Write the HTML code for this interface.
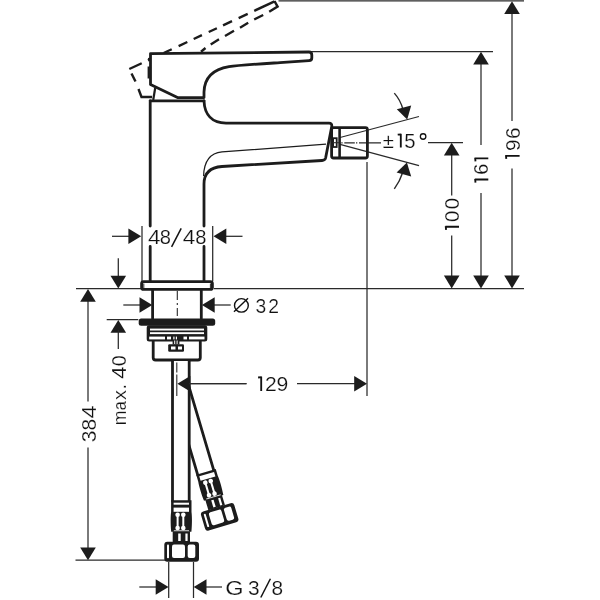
<!DOCTYPE html>
<html><head><meta charset="utf-8"><style>
html,body{margin:0;padding:0;background:#fff;}
svg{display:block;}
text{font-family:"Liberation Sans",sans-serif;fill:#111;stroke:#fff;stroke-width:0.2px;paint-order:normal;}
svg{will-change:transform;}
</style></head><body>
<svg width="600" height="600" viewBox="0 0 600 600">
<rect width="600" height="600" fill="#fff"/>
<line x1="278.50" y1="0.90" x2="524.00" y2="0.90" stroke="#2a2a2a" stroke-width="1.25" />
<line x1="311.00" y1="51.50" x2="493.00" y2="51.50" stroke="#2a2a2a" stroke-width="1.25" />
<line x1="428.00" y1="142.60" x2="463.00" y2="142.60" stroke="#2a2a2a" stroke-width="1.25" />
<line x1="76.00" y1="288.60" x2="141.00" y2="288.60" stroke="#2a2a2a" stroke-width="1.25" />
<line x1="214.00" y1="288.60" x2="524.00" y2="288.60" stroke="#2a2a2a" stroke-width="1.25" />
<line x1="512.00" y1="10.00" x2="512.00" y2="121.00" stroke="#2a2a2a" stroke-width="1.25" />
<line x1="512.00" y1="168.50" x2="512.00" y2="280.00" stroke="#2a2a2a" stroke-width="1.25" />
<polygon points="512.00,1.20 504.20,14.00 519.80,14.00" fill="#1c1c1c"/>
<polygon points="512.00,288.40 504.20,275.60 519.80,275.60" fill="#1c1c1c"/>
<g transform="translate(519.60 0) rotate(-90)"><text x="-145.24 -133.14" y="0" text-anchor="middle" font-size="20.86">96</text><path d="M-155.80,0.00 L-155.80,-14.00 M-155.20,-13.70 L-158.90,-13.30" stroke="#111" stroke-width="1.85" fill="none"/></g>
<line x1="481.00" y1="60.00" x2="481.00" y2="145.00" stroke="#2a2a2a" stroke-width="1.25" />
<line x1="481.00" y1="193.00" x2="481.00" y2="280.00" stroke="#2a2a2a" stroke-width="1.25" />
<polygon points="481.00,51.80 473.20,64.60 488.80,64.60" fill="#1c1c1c"/>
<polygon points="481.00,288.40 473.20,275.60 488.80,275.60" fill="#1c1c1c"/>
<g transform="translate(488.30 0) rotate(-90)"><text x="-169.14" y="0" text-anchor="middle" font-size="20.14">6</text><path d="M-179.50,0.00 L-179.50,-13.50 M-178.90,-13.20 L-182.60,-12.80" stroke="#111" stroke-width="1.85" fill="none"/><path d="M-158.35,0.00 L-158.35,-13.50 M-157.75,-13.20 L-161.45,-12.80" stroke="#111" stroke-width="1.85" fill="none"/></g>
<line x1="451.70" y1="150.00" x2="451.70" y2="195.40" stroke="#2a2a2a" stroke-width="1.25" />
<line x1="451.70" y1="235.40" x2="451.70" y2="280.00" stroke="#2a2a2a" stroke-width="1.25" />
<polygon points="451.70,142.80 443.90,155.60 459.50,155.60" fill="#1c1c1c"/>
<polygon points="451.70,288.40 443.90,275.60 459.50,275.60" fill="#1c1c1c"/>
<g transform="translate(459.00 0) rotate(-90)"><text x="-216.29 -203.54" y="0" text-anchor="middle" font-size="20.29">00</text><path d="M-226.70,0.00 L-226.70,-13.60 M-226.10,-13.30 L-229.80,-12.90" stroke="#111" stroke-width="1.85" fill="none"/></g>
<line x1="142.00" y1="226.00" x2="142.00" y2="281.00" stroke="#2a2a2a" stroke-width="1.25" />
<line x1="212.70" y1="226.00" x2="212.70" y2="281.00" stroke="#2a2a2a" stroke-width="1.25" />
<line x1="112.00" y1="236.30" x2="130.00" y2="236.30" stroke="#2a2a2a" stroke-width="1.25" />
<polygon points="141.20,236.30 128.40,228.50 128.40,244.10" fill="#1c1c1c"/>
<line x1="226.00" y1="236.30" x2="242.50" y2="236.30" stroke="#2a2a2a" stroke-width="1.25" />
<polygon points="213.50,236.30 226.30,228.50 226.30,244.10" fill="#1c1c1c"/>
<g transform="translate(0 243.90)"><text x="165.46 200.86" y="0" text-anchor="middle" font-size="20.14">88</text><text x="0" y="0" transform="translate(154.27 0) scale(1.120 1.000)" text-anchor="middle" font-size="20.14">4</text><text x="0" y="0" transform="translate(188.97 0) scale(1.120 1.000)" text-anchor="middle" font-size="20.14">4</text></g>
<line x1="171.60" y1="246.80" x2="181.20" y2="228.40" stroke="#111" stroke-width="1.50"/>
<line x1="118.30" y1="258.30" x2="118.30" y2="277.00" stroke="#2a2a2a" stroke-width="1.25" />
<polygon points="118.30,288.60 110.50,275.80 126.10,275.80" fill="#1c1c1c"/>
<line x1="88.00" y1="300.00" x2="88.00" y2="401.50" stroke="#2a2a2a" stroke-width="1.25" />
<line x1="88.00" y1="447.50" x2="88.00" y2="550.00" stroke="#2a2a2a" stroke-width="1.25" />
<polygon points="88.00,288.90 80.20,301.70 95.80,301.70" fill="#1c1c1c"/>
<polygon points="88.00,560.20 80.20,547.40 95.80,547.40" fill="#1c1c1c"/>
<line x1="75.50" y1="560.10" x2="165.00" y2="560.10" stroke="#2a2a2a" stroke-width="1.25" />
<g transform="translate(95.50 0) rotate(-90)"><text x="-436.44 -424.69" y="0" text-anchor="middle" font-size="21.00">38</text><text x="0" y="0" transform="translate(-411.93 0) scale(1.120 1.000)" text-anchor="middle" font-size="21.00">4</text></g>
<line x1="106.70" y1="319.70" x2="138.30" y2="319.70" stroke="#2a2a2a" stroke-width="1.25" />
<polygon points="118.30,319.90 110.50,332.70 126.10,332.70" fill="#1c1c1c"/>
<line x1="118.30" y1="330.00" x2="118.30" y2="349.00" stroke="#2a2a2a" stroke-width="1.25" />
<g transform="translate(125.70 0) rotate(-90)"><text x="-386.72 -360.74" y="0" text-anchor="middle" font-size="19.71">.0</text><text x="0" y="0" transform="translate(-417.86 0) scale(0.900 0.885)" text-anchor="middle" font-size="19.71">m</text><text x="0" y="0" transform="translate(-405.65 0) scale(0.820 0.885)" text-anchor="middle" font-size="19.71">a</text><text x="0" y="0" transform="translate(-395.00 0) scale(1.000 0.885)" text-anchor="middle" font-size="19.71">x</text><text x="0" y="0" transform="translate(-372.63 0) scale(1.120 1.000)" text-anchor="middle" font-size="19.71">4</text></g>
<line x1="123.30" y1="305.00" x2="141.00" y2="305.00" stroke="#2a2a2a" stroke-width="1.25" />
<polygon points="152.30,305.00 139.50,297.20 139.50,312.80" fill="#1c1c1c"/>
<line x1="213.00" y1="305.00" x2="230.70" y2="305.00" stroke="#2a2a2a" stroke-width="1.25" />
<polygon points="201.90,305.00 214.70,297.20 214.70,312.80" fill="#1c1c1c"/>
<ellipse cx="241.4" cy="305.4" rx="6.9" ry="6.75" fill="none" stroke="#111" stroke-width="1.4"/>
<line x1="234.00" y1="311.80" x2="248.00" y2="298.20" stroke="#111" stroke-width="1.40"/>
<g transform="translate(0 312.50)"><text x="260.76 273.66" y="0" text-anchor="middle" font-size="19.29">32</text></g>
<line x1="367.00" y1="162.00" x2="367.00" y2="396.00" stroke="#2a2a2a" stroke-width="1.25" />
<polygon points="177.40,383.70 190.20,375.90 190.20,391.50" fill="#1c1c1c"/>
<line x1="189.00" y1="383.70" x2="246.50" y2="383.70" stroke="#2a2a2a" stroke-width="1.25" />
<line x1="297.00" y1="383.70" x2="356.00" y2="383.70" stroke="#2a2a2a" stroke-width="1.25" />
<polygon points="367.00,383.70 354.20,375.90 354.20,391.50" fill="#1c1c1c"/>
<g transform="translate(0 391.00)"><text x="270.76 282.46" y="0" text-anchor="middle" font-size="21.14">29</text><path d="M261.20,0.00 L261.20,-14.20 M261.80,-13.90 L258.10,-13.50" stroke="#111" stroke-width="1.85" fill="none"/></g>
<line x1="168.70" y1="562.00" x2="168.70" y2="598.00" stroke="#2a2a2a" stroke-width="1.25" />
<line x1="193.50" y1="562.00" x2="193.50" y2="598.00" stroke="#2a2a2a" stroke-width="1.25" />
<line x1="139.30" y1="587.00" x2="157.00" y2="587.00" stroke="#2a2a2a" stroke-width="1.25" />
<polygon points="168.50,587.00 155.70,579.20 155.70,594.80" fill="#1c1c1c"/>
<line x1="205.00" y1="587.00" x2="222.00" y2="587.00" stroke="#2a2a2a" stroke-width="1.25" />
<polygon points="193.70,587.00 206.50,579.20 206.50,594.80" fill="#1c1c1c"/>
<g transform="translate(0 594.60)"><text x="253.76 277.36" y="0" text-anchor="middle" font-size="20.86">38</text><text x="0" y="0" transform="translate(234.33 0) scale(1.130 1.000)" text-anchor="middle" font-size="20.86">G</text></g>
<line x1="260.80" y1="597.50" x2="270.40" y2="578.75" stroke="#111" stroke-width="1.50"/>
<path d="M341.3,142.8 L342.6,142.8 M344.3,142.8 L354.8,142.8 M356,142.8 L357.3,142.8 M359,142.8 L381,142.8" stroke="#2a2a2a" stroke-width="1.2" fill="none"/>
<g transform="translate(0 147.60)"><text x="388.29 409.86" y="0" text-anchor="middle" font-size="20.29">±5</text><path d="M400.80,0.00 L400.80,-13.60 M401.40,-13.30 L397.70,-12.90" stroke="#111" stroke-width="1.85" fill="none"/></g>
<circle cx="423.1" cy="136.5" r="2.75" fill="none" stroke="#111" stroke-width="1.3"/>
<line x1="340.00" y1="137.50" x2="419.00" y2="116.50" stroke="#2a2a2a" stroke-width="1.25" />
<line x1="340.00" y1="144.40" x2="419.00" y2="165.70" stroke="#2a2a2a" stroke-width="1.25" />
<path d="M274.54,1.37 L254.23,10.83 M247.70,13.87 L238.64,18.09 M232.02,21.17 L223.04,25.35 M216.88,28.22 L208.72,32.02 M201.92,35.19 L193.67,39.03 M187.32,41.98 L178.62,46.04 M171.73,49.25 L163.66,53.00 M156.59,56.30 L147.98,60.31 M141.72,63.22 L129.30,69.01 M274.5,1.2 L277.6,6.6 L269.2,11.7 M263.20,15.00 L254.20,19.50 M248.20,22.80 L240.00,27.70 M234.00,30.70 L225.00,36.00 M219.00,39.30 L210.70,44.50 M205.50,48.00 L201.00,51.70 M131.5,73.5 L135.5,81.5 M138.5,89 L141.5,97 L152,97" stroke="#1c1c1c" stroke-width="2.4" fill="none" stroke-linecap="butt"/>
<path d="M150.5,84.5 L150.5,53.6 L309,52.0 Q311.8,52 311.8,55 L311.8,58 Q311.8,60.5 309,60.6 L280,62.6 C255,64.2 238,65.2 229,66.7 C214,69.2 204.5,77.5 204,92 L204,97.6 L177.5,97.6 Z" fill="#fff" stroke="#1c1c1c" stroke-width="2.80" stroke-linejoin="round" stroke-linecap="round"/>
<circle cx="149" cy="58.8" r="1.1" fill="#1c1c1c"/>
<line x1="148.7" y1="66.5" x2="148.7" y2="78.5" stroke="#1c1c1c" stroke-width="2.2"/>
<line x1="155.2" y1="88" x2="153.2" y2="100" stroke="#1c1c1c" stroke-width="2.2"/>
<path d="M150.2,100.8 L204,100.8" fill="none" stroke="#1c1c1c" stroke-width="2.80" stroke-linejoin="round" stroke-linecap="round"/>
<path d="M150.2,100.8 L150.2,226 M150.2,246.5 L150.2,281" fill="none" stroke="#1c1c1c" stroke-width="2.80" stroke-linejoin="round" stroke-linecap="round"/>
<path d="M204,100.8 C204.5,114.5 212,123 226,123.1 L329,123.1 Q332,123.1 331.8,126.3 L325.6,158 Q325,160.3 322,160.5 L222,166.5 C211,167.3 204,172.5 204,184 L204,226 M204,246.5 L204,281" fill="none" stroke="#1c1c1c" stroke-width="2.80" stroke-linejoin="round" stroke-linecap="round"/>
<path d="M326,144.2 L222,151.9 C211,153 204,160.5 203.6,176" fill="none" stroke="#1c1c1c" stroke-width="1.2"/>
<rect x="331.6" y="127.6" width="35.8" height="30.4" rx="2" fill="none" stroke="#1c1c1c" stroke-width="2.80" stroke-linejoin="round" stroke-linecap="round"/>
<line x1="339.6" y1="128" x2="339.6" y2="157.5" stroke="#1c1c1c" stroke-width="2.6"/>
<rect x="333.1" y="138.2" width="3.6" height="8.8" fill="none" stroke="#1c1c1c" stroke-width="1.8"/>
<line x1="333" y1="142.7" x2="339" y2="142.7" stroke="#2a2a2a" stroke-width="1.1"/>
<path d="M394.3,93.1 Q400.5,100 403,109.5" fill="none" stroke="#2a2a2a" stroke-width="1.4"/>
<polygon points="407.2,119.4 396.8,109.3 411.2,105.6" fill="#1c1c1c"/>
<path d="M394.3,188.9 Q400,181 402.5,173" fill="none" stroke="#2a2a2a" stroke-width="1.4"/>
<polygon points="406.9,162.4 396.6,172.5 411.2,176.4" fill="#1c1c1c"/>
<rect x="141.6" y="281.6" width="70.8" height="7.8" rx="2" fill="#fff" stroke="#1c1c1c" stroke-width="2.80" stroke-linejoin="round" stroke-linecap="round"/>
<line x1="143.8" y1="283.5" x2="143.8" y2="288" stroke="#2a2a2a" stroke-width="1"/>
<line x1="210.4" y1="283.5" x2="210.4" y2="288" stroke="#2a2a2a" stroke-width="1"/>
<path d="M152.6,290.5 L152.6,318.5 M201.3,290.5 L201.3,318.5" fill="none" stroke="#1c1c1c" stroke-width="2.80" stroke-linejoin="round" stroke-linecap="round"/>
<line x1="177.30" y1="291.00" x2="177.30" y2="316.00" stroke="#2a2a2a" stroke-width="1.10" stroke-dasharray="9 3 2 3"/>
<rect x="138.7" y="318.4" width="76.5" height="7.4" rx="2.5" fill="#1c1c1c"/>
<rect x="146.7" y="325.3" width="60.6" height="16.2" rx="2.5" fill="#1c1c1c"/>
<rect x="150.0" y="328.6" width="54.0" height="1.9" fill="#fff"/>
<rect x="150.0" y="332.2" width="54.0" height="1.9" fill="#fff"/>
<rect x="149.2" y="336.6" width="15.8" height="2.8" fill="#fff"/>
<rect x="167.0" y="336.6" width="4.0" height="2.8" fill="#fff"/>
<rect x="173.3" y="336.6" width="1.2" height="2.8" fill="#fff"/>
<rect x="175.8" y="336.6" width="1.2" height="2.8" fill="#fff"/>
<rect x="183.5" y="336.6" width="3.5" height="2.8" fill="#fff"/>
<rect x="189.0" y="336.6" width="15.5" height="2.8" fill="#fff"/>
<path d="M153.2,341.3 L153.2,357.8 Q153.2,360 155.6,360 L197.9,360 Q200.3,360 200.3,357.8 L200.3,341.3" fill="none" stroke="#1c1c1c" stroke-width="2.80" stroke-linejoin="round" stroke-linecap="round"/>
<rect x="168.2" y="344.2" width="15.8" height="7.6" rx="1.2" fill="#1c1c1c"/>
<rect x="171" y="346.5" width="4.5" height="3" fill="#fff"/>
<rect x="178" y="346.5" width="4" height="3" fill="#fff"/>
<rect x="172.6" y="340" width="6.8" height="4.5" fill="#1c1c1c"/>
<rect x="174.2" y="340.5" width="1" height="3.5" fill="#fff"/>
<rect x="176.6" y="340.5" width="1" height="3.5" fill="#fff"/>
<defs><clipPath id="rh"><rect x="173" y="384.2" width="427" height="216"/></clipPath></defs>
<g clip-path="url(#rh)"><g transform="translate(219.30 517.00) rotate(-16.50) translate(-181.25 -551.75)">
<rect x="172.5" y="330" width="16.7" height="175" fill="#fff"/>
<path d="M172.5,360.5 L172.5,505.5 M189.2,360.5 L189.2,505.5" fill="none" stroke="#1c1c1c" stroke-width="2.80" stroke-linejoin="round" stroke-linecap="round"/>
<path d="M171.1,504.7 L191.5,504.7 L191.5,512 C192.1,516 192.1,525 191.4,531.8 L171.2,531.8 C170.5,525 170.5,516 171.1,512 Z" fill="#1c1c1c"/>
<rect x="173.8" y="530.2" width="15.2" height="1.3" fill="#fff" opacity="0.8"/>
<rect x="173.6" y="507.1" width="15.4" height="4.7" fill="#fff"/>
<circle cx="177.6" cy="514.8" r="2.3" fill="#fff"/>
<circle cx="177.6" cy="528.0" r="2.3" fill="#fff"/>
<rect x="176.6" y="514.8" width="2" height="13.2" fill="#fff"/>
<circle cx="183.3" cy="514.8" r="2.3" fill="#fff"/>
<circle cx="183.3" cy="528.0" r="2.3" fill="#fff"/>
<rect x="182.3" y="514.8" width="2" height="13.2" fill="#fff"/>
<rect x="172.7" y="531.4" width="17.3" height="10.8" fill="#1c1c1c"/>
<rect x="178.2" y="533.5" width="2.5" height="7.5" fill="#fff"/>
<rect x="185.4" y="533.5" width="2.2" height="7.5" fill="#fff"/>
<rect x="164.3" y="541.8" width="34.7" height="19.9" rx="3" fill="#1c1c1c"/>
<rect x="167" y="544.6" width="2" height="13.6" rx="0.8" fill="#fff"/>
<rect x="172" y="544.6" width="13" height="13.5" rx="2" fill="#fff"/>
<rect x="187.7" y="544.6" width="7.6" height="13.5" rx="2" fill="#fff"/>
</g></g>
<rect x="173.5" y="361" width="14.7" height="140" fill="#fff"/>
<path d="M172.5,360.5 L172.5,501.0 M189.2,360.5 L189.2,501.0" fill="none" stroke="#1c1c1c" stroke-width="2.80" stroke-linejoin="round" stroke-linecap="round"/>
<path d="M171.1,500.2 L191.5,500.2 L191.5,512 C192.1,516 192.1,525 191.4,531.8 L171.2,531.8 C170.5,525 170.5,516 171.1,512 Z" fill="#1c1c1c"/>
<rect x="173.8" y="530.2" width="15.2" height="1.3" fill="#fff" opacity="0.8"/>
<rect x="173.6" y="502.7" width="15.4" height="2" fill="#fff"/>
<rect x="173.6" y="507.6" width="15.4" height="4.2" fill="#fff"/>
<circle cx="177.6" cy="514.8" r="2.3" fill="#fff"/>
<circle cx="177.6" cy="528.0" r="2.3" fill="#fff"/>
<rect x="176.6" y="514.8" width="2" height="13.2" fill="#fff"/>
<circle cx="183.3" cy="514.8" r="2.3" fill="#fff"/>
<circle cx="183.3" cy="528.0" r="2.3" fill="#fff"/>
<rect x="182.3" y="514.8" width="2" height="13.2" fill="#fff"/>
<rect x="172.7" y="531.4" width="17.3" height="10.8" fill="#1c1c1c"/>
<rect x="178.2" y="533.5" width="2.5" height="7.5" fill="#fff"/>
<rect x="185.4" y="533.5" width="2.2" height="7.5" fill="#fff"/>
<rect x="164.3" y="541.8" width="34.7" height="19.9" rx="3" fill="#1c1c1c"/>
<rect x="167" y="544.6" width="2" height="13.6" rx="0.8" fill="#fff"/>
<rect x="172" y="544.6" width="13" height="13.5" rx="2" fill="#fff"/>
<rect x="187.7" y="544.6" width="7.6" height="13.5" rx="2" fill="#fff"/>
<line x1="176.80" y1="362.50" x2="176.80" y2="396.00" stroke="#2a2a2a" stroke-width="1.10" stroke-dasharray="10 2 30"/>
<polygon points="177.40,383.70 190.20,375.90 190.20,391.50" fill="#1c1c1c"/>
<line x1="189.00" y1="383.70" x2="246.50" y2="383.70" stroke="#2a2a2a" stroke-width="1.25" />
</svg>
</body></html>
